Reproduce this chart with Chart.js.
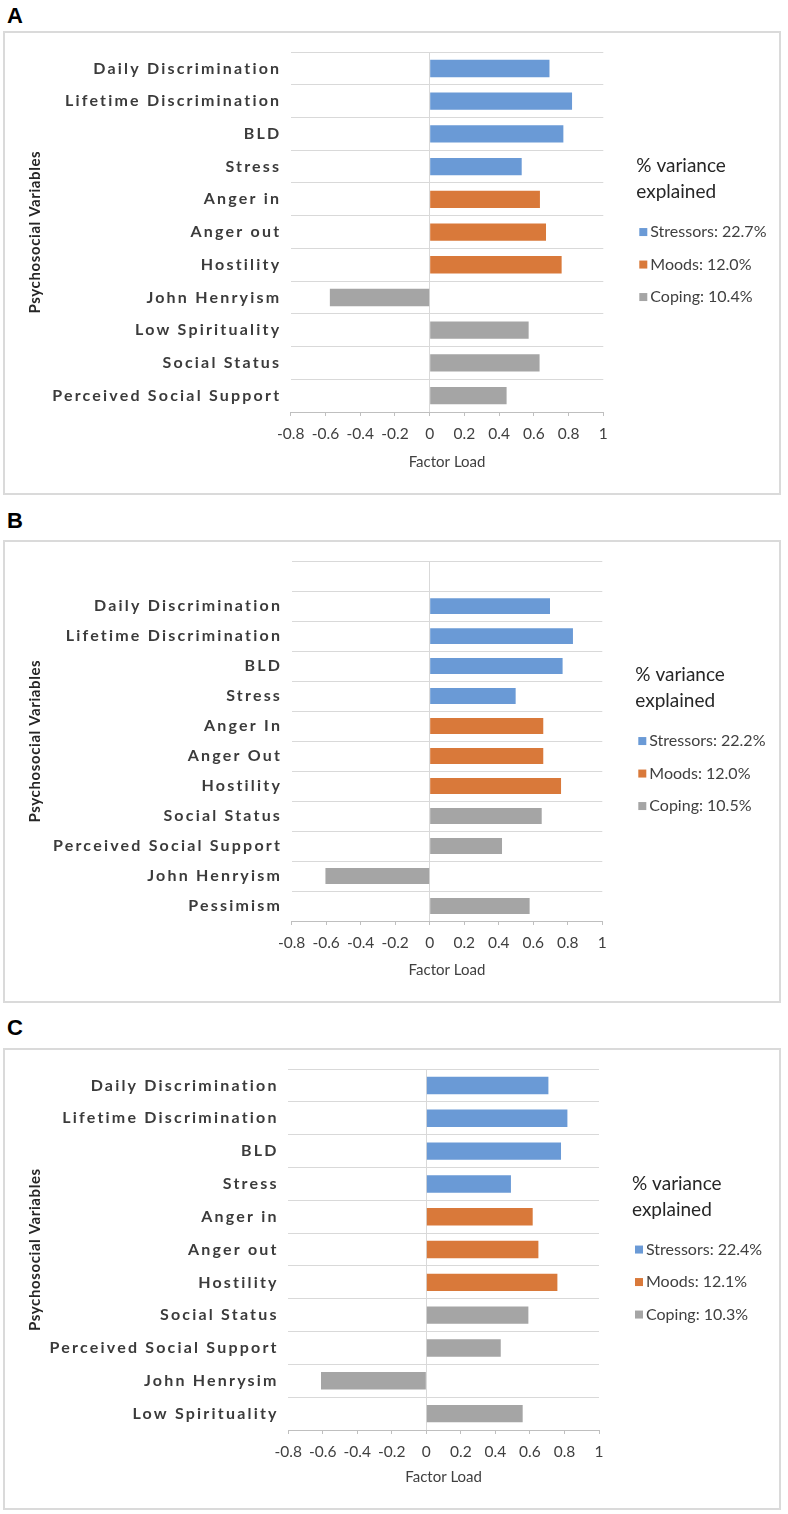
<!DOCTYPE html>
<html>
<head>
<meta charset="utf-8">
<script src="https://cdn.jsdelivr.net/npm/chart.js@4.4.1/dist/chart.umd.min.js"></script>
<style>
  html, body { margin: 0; padding: 0; background: #fff; }
  body { width: 788px; height: 1514px; position: relative; overflow: hidden; }
  .panel-label { position: absolute; left: 7px; font: bold 22px "Liberation Sans", Arial, sans-serif; line-height: 22px; color: #000; }
  .panel-box { position: absolute; left: 3px; width: 778px; border: 2px solid #dadada; box-sizing: border-box; }
  .panel-box canvas { position: absolute; left: 0; top: 0; }
</style>
</head>
<body>
<div class="panel-label" style="top:5px">A</div>
<div class="panel-box" style="top:31px;height:464px"><canvas id="chart-a" width="774" height="460"></canvas></div>
<div class="panel-label" style="top:510px">B</div>
<div class="panel-box" style="top:540px;height:463px"><canvas id="chart-b" width="774" height="459"></canvas></div>
<div class="panel-label" style="top:1017px">C</div>
<div class="panel-box" style="top:1048px;height:462px"><canvas id="chart-c" width="774" height="458"></canvas></div>

<script>
// factor groups: 0 = Stressors, 1 = Moods, 2 = Coping
const factorNames = ['Stressors', 'Moods', 'Coping'];
const factorColors = ['#6a9ad6', '#d9793a', '#a5a5a5'];
const legendTitle = ['% variance', 'explained'];

const categoriesA = ['Daily Discrimination', 'Lifetime Discrimination', 'BLD', 'Stress', 'Anger in', 'Anger out',
    'Hostility', 'John Henryism', 'Low Spirituality', 'Social Status', 'Perceived Social Support'];
const loadsA = [0.69, 0.82, 0.77, 0.53, 0.635, 0.67, 0.76, -0.575, 0.57, 0.633, 0.443];
const factorA = [0, 0, 0, 0, 1, 1, 1, 2, 2, 2, 2];
const varianceA = [22.7, 12.0, 10.4];

// panel B has an empty first row
const categoriesB = ['', 'Daily Discrimination', 'Lifetime Discrimination', 'BLD', 'Stress', 'Anger In', 'Anger Out',
    'Hostility', 'Social Status', 'Perceived Social Support', 'John Henryism', 'Pessimism'];
const loadsB = [null, 0.697, 0.83, 0.77, 0.498, 0.658, 0.658, 0.761, 0.649, 0.419, -0.604, 0.579];
const factorB = [null, 0, 0, 0, 0, 1, 1, 1, 2, 2, 2, 2];
const varianceB = [22.2, 12.0, 10.5];

const categoriesC = ['Daily Discrimination', 'Lifetime Discrimination', 'BLD', 'Stress', 'Anger in', 'Anger out',
    'Hostility', 'Social Status', 'Perceived Social Support', 'John Henrysim', 'Low Spirituality'];
const loadsC = [0.707, 0.817, 0.78, 0.49, 0.616, 0.649, 0.759, 0.591, 0.431, -0.61, 0.558];
const factorC = [0, 0, 0, 0, 1, 1, 1, 2, 2, 2, 2];
const varianceC = [22.4, 12.1, 10.3];

const xTicks = [-0.8, -0.6, -0.4, -0.2, 0, 0.2, 0.4, 0.6, 0.8, 1];
const xMin = -0.8;
const xMax = 1;

// legend drawn to the right of the plot, centred on it
const varianceLegend = {
    id: 'varianceLegend',
    afterDraw(chart) {
        const ctx = chart.ctx;
        const area = chart.chartArea;
        const x = area.right + 33;
        const cy = (area.top + area.bottom) / 2;
        ctx.save();
        ctx.textAlign = 'left';
        ctx.textBaseline = 'middle';
        ctx.fillStyle = '#262626';
        ctx.font = '19px Lato, sans-serif';
        ctx.fillText(legendTitle[0], x, cy - 66);
        ctx.fillText(legendTitle[1], x, cy - 40);
        ctx.font = '16px Lato, sans-serif';
        chart.data.datasets.forEach((ds, i) => {
            const y = cy + i * 32.5;
            ctx.fillStyle = ds.backgroundColor;
            ctx.fillRect(x + 3, y - 4, 8, 8);
            ctx.fillStyle = '#404040';
            ctx.fillText(ds.label, x + 14, y);
        });
        ctx.restore();
    }
};

// spaced-out lettering on the category axis, like the original
const spacedLabels = {
    id: 'spacedLabels',
    beforeDraw(chart) {
        const s = chart.scales.y;
        if (s._spaced) return;
        const drawLabels = s.drawLabels;
        const drawTitle = s.drawTitle;
        s.drawLabels = function (a) {
            this.ctx.save();
            this.ctx.letterSpacing = '2.2px';
            drawLabels.call(this, a);
            this.ctx.restore();
        };
        s.drawTitle = function (a) {
            this.ctx.save();
            this.ctx.letterSpacing = '0.6px';
            drawTitle.call(this, a);
            this.ctx.restore();
        };
        s._spaced = true;
    }
};

function makeChart(canvasId, categories, loads, factor, variance, box) {
    const canvas = document.getElementById(canvasId);
    const datasets = factorNames.map((name, f) => ({
        label: `${name}: ${variance[f].toFixed(1)}%`,
        data: loads.map((v, i) => factor[i] === f ? v : null),
        backgroundColor: factorColors[f],
        grouped: false,
        barPercentage: 0.53,
        categoryPercentage: 1
    }));

    new Chart(canvas.getContext('2d'), {
        type: 'bar',
        data: { labels: categories, datasets: datasets },
        plugins: [varianceLegend, spacedLabels],
        options: {
            indexAxis: 'y',
            responsive: false,
            animation: false,
            devicePixelRatio: 1,
            layout: {
                padding: { left: 0, top: box.top, right: canvas.width - box.right, bottom: 0 }
            },
            plugins: {
                legend: { display: false },
                tooltip: { enabled: false }
            },
            scales: {
                x: {
                    type: 'linear',
                    min: xMin,
                    max: xMax,
                    afterBuildTicks: scale => { scale.ticks = xTicks.map(v => ({ value: v })); },
                    afterFit: scale => { scale.height = canvas.height - box.bottom; },
                    grid: {
                        color: c => (c.tick && c.tick.value === 0) ? '#d9d9d9' : 'rgba(0,0,0,0)',
                        tickColor: '#bfbfbf',
                        tickLength: 4,
                        lineWidth: 1
                    },
                    border: { display: true, color: '#bfbfbf', width: 1 },
                    ticks: {
                        padding: 9,
                        color: '#404040',
                        font: { family: 'Lato, sans-serif', size: 15.5 },
                        callback: v => String(v)
                    },
                    title: {
                        display: true,
                        text: 'Factor Load',
                        color: '#404040',
                        font: { family: 'Lato, sans-serif', size: 15 },
                        padding: { top: 0, bottom: 22 }
                    }
                },
                y: {
                    afterFit: scale => { scale.width = box.left; },
                    grid: { color: '#d9d9d9', lineWidth: 1, drawTicks: false, offset: true },
                    border: { display: false },
                    ticks: {
                        padding: 9.5,
                        color: '#3b3b3b',
                        font: { family: 'Lato, sans-serif', size: 16, weight: 'bold' },
                        autoSkip: false
                    },
                    title: {
                        display: true,
                        text: 'Psychosocial Variables',
                        color: '#262626',
                        font: { family: 'Lato, sans-serif', size: 15, weight: 'bold' },
                        padding: { top: 21, bottom: 0 }
                    }
                }
            }
        }
    });
}

document.addEventListener('DOMContentLoaded', function () {
    makeChart('chart-a', categoriesA, loadsA, factorA, varianceA, { left: 285.8, right: 598.3, top: 19, bottom: 379 });
    makeChart('chart-b', categoriesB, loadsB, factorB, varianceB, { left: 286.6, right: 597.3, top: 19, bottom: 379 });
    makeChart('chart-c', categoriesC, loadsC, factorC, varianceC, { left: 283.2, right: 594, top: 18, bottom: 380 });
});
</script>
</body>
</html>
